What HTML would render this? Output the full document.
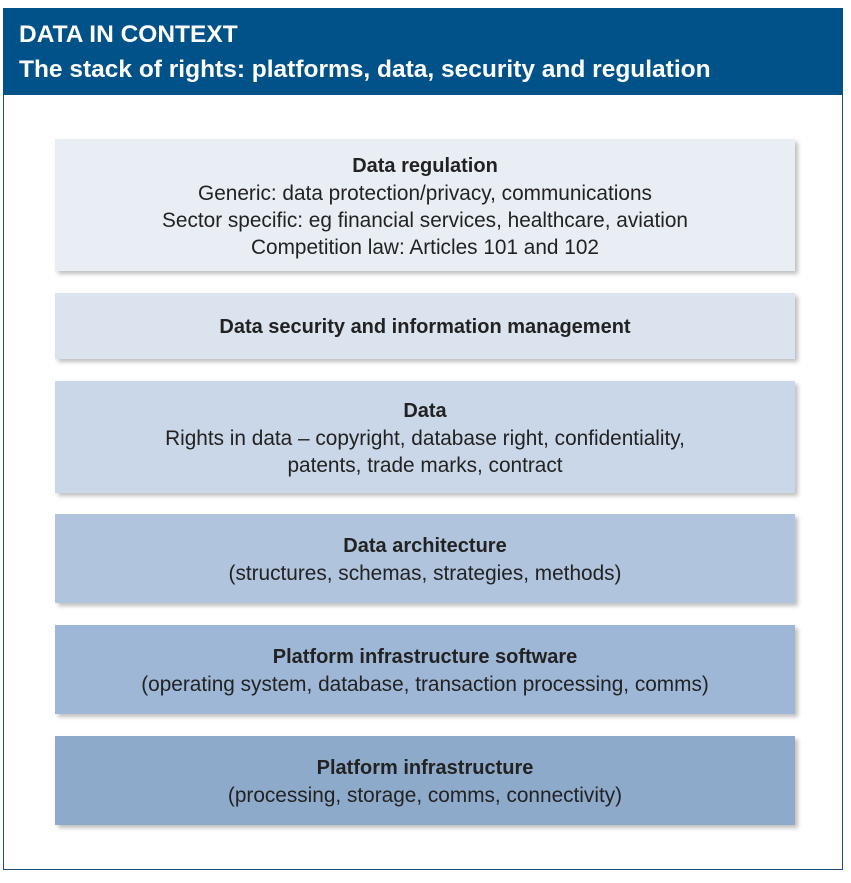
<!DOCTYPE html>
<html><head><style>
body{margin:0;background:#fff;width:851px;height:883px;position:relative;font-family:"Liberation Sans",sans-serif;}
.frame{position:absolute;left:3px;top:8px;width:838px;height:860px;border:1px solid #1e4d78;}
.hdr{position:absolute;left:3px;top:8px;width:840px;height:87px;background:#02528a;color:#fff;font-weight:bold;font-size:24.5px;}
.hdr div{position:absolute;left:16px;}
.b{position:absolute;left:55px;width:740px;box-shadow:3px 3px 4px rgba(0,0,0,0.25);text-align:center;color:#222;font-size:20.8px;line-height:27px;display:flex;flex-direction:column;justify-content:center;padding-top:3px;box-sizing:border-box;}
.b b{font-weight:bold;font-size:20px;}
</style></head><body>
<div class="frame"></div>
<div class="hdr"><div style="top:13px">DATA IN CONTEXT</div><div style="top:48px">The stack of rights: platforms, data, security and regulation</div></div>
<div class="b" style="top:139px;height:132px;background:#e9eef5"><b>Data regulation</b>Generic: data protection/privacy, communications<br>Sector specific: eg financial services, healthcare, aviation<br>Competition law: Articles 101 and 102</div>
<div class="b" style="top:293px;height:66px;background:#dbe3ee"><b>Data security and information management</b></div>
<div class="b" style="top:381px;height:112px;background:#cad7e8"><b>Data</b>Rights in data – copyright, database right, confidentiality,<br>patents, trade marks, contract</div>
<div class="b" style="top:514px;height:89px;background:#b0c4dd"><b>Data architecture</b>(structures, schemas, strategies, methods)</div>
<div class="b" style="top:625px;height:89px;background:#9fb7d7"><b>Platform infrastructure software</b>(operating system, database, transaction processing, comms)</div>
<div class="b" style="top:736px;height:89px;background:#8eaacb"><b>Platform infrastructure</b>(processing, storage, comms, connectivity)</div>
</body></html>
